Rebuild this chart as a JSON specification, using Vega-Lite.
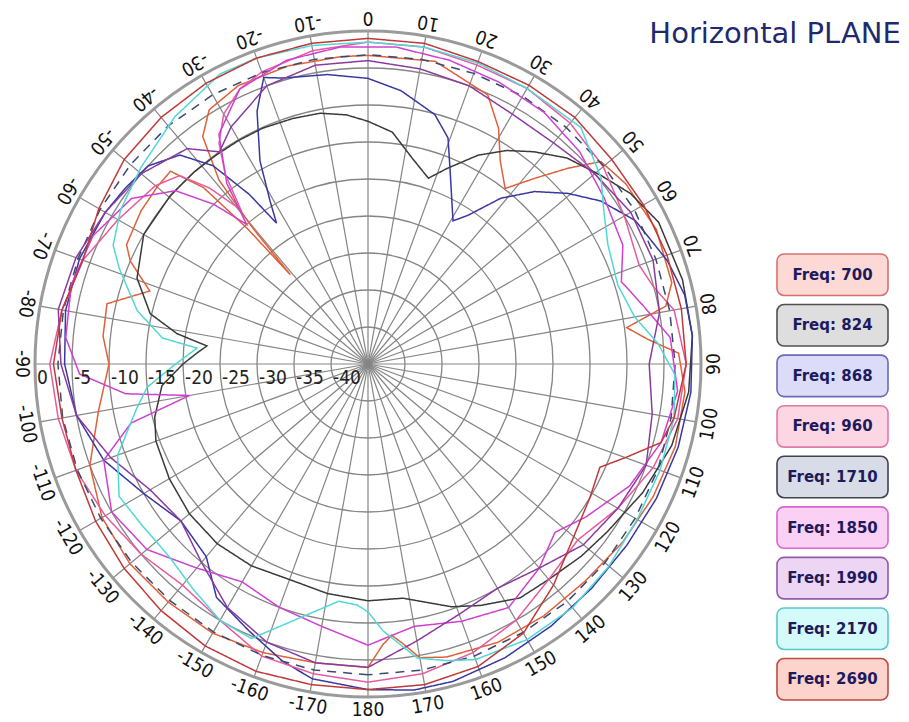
{
"$schema":"https://vega.github.io/schema/vega-lite/v6.json",
"padding":{"left":11,"top":7,"right":5,"bottom":5},
"background":"white",
"bounds":"flush",
"spacing":76,
"config":{"view":{"stroke":null}},
"datasets":{
"traces":[
{"f":"700","a":-180,"d":-4},{"f":"700","a":-170,"d":-4},{"f":"700","a":-160,"d":-3.5},{"f":"700","a":-150,"d":-3},{"f":"700","a":-140,"d":-3},{"f":"700","a":-130,"d":-3},{"f":"700","a":-120,"d":-3.5},{"f":"700","a":-110,"d":-5},{"f":"700","a":-100,"d":-8},{"f":"700","a":-90,"d":-10},{"f":"700","a":-84,"d":-9},{"f":"700","a":-77,"d":-8.8},{"f":"700","a":-71.5,"d":-13.9},{"f":"700","a":-66.6,"d":-10},{"f":"700","a":-63.7,"d":-8.6},{"f":"700","a":-56,"d":-8},{"f":"700","a":-50,"d":-7.8},{"f":"700","a":-45.7,"d":-7.7},{"f":"700","a":-43,"d":-12.4},{"f":"700","a":-41.7,"d":-20.4},{"f":"700","a":-41,"d":-29},{"f":"700","a":-40.3,"d":-21},{"f":"700","a":-39,"d":-13},{"f":"700","a":-36,"d":-7},{"f":"700","a":-32,"d":-4.5},{"f":"700","a":-25,"d":-3.5},{"f":"700","a":-15,"d":-3.3},{"f":"700","a":-5,"d":-3.3},{"f":"700","a":0,"d":-3.3},{"f":"700","a":12.5,"d":-3.1},{"f":"700","a":24,"d":-5.2},{"f":"700","a":29,"d":-8.6},{"f":"700","a":33,"d":-12.2},{"f":"700","a":38,"d":-14.9},{"f":"700","a":42,"d":-11.2},{"f":"700","a":45.6,"d":-7.2},{"f":"700","a":49,"d":-3.3},{"f":"700","a":55,"d":-2.5},{"f":"700","a":65,"d":-2},{"f":"700","a":75,"d":-2.5},{"f":"700","a":79,"d":-4},{"f":"700","a":82,"d":-9.7},{"f":"700","a":85,"d":-7},{"f":"700","a":88,"d":-3},{"f":"700","a":95,"d":-2},{"f":"700","a":105,"d":-2},{"f":"700","a":115,"d":-2.5},{"f":"700","a":125,"d":-3},{"f":"700","a":135,"d":-3.5},{"f":"700","a":145,"d":-3.5},{"f":"700","a":155,"d":-3.5},{"f":"700","a":165,"d":-4},{"f":"700","a":170,"d":-4.7},{"f":"700","a":173,"d":-7},{"f":"700","a":175,"d":-8.2},{"f":"700","a":177,"d":-7},{"f":"700","a":180,"d":-4},
{"f":"824","a":-180,"d":-13},{"f":"824","a":-170,"d":-13.5},{"f":"824","a":-160,"d":-14},{"f":"824","a":-150,"d":-13.5},{"f":"824","a":-140,"d":-13.3},{"f":"824","a":-130,"d":-13.5},{"f":"824","a":-120,"d":-14},{"f":"824","a":-110,"d":-14.5},{"f":"824","a":-104,"d":-15.3},{"f":"824","a":-96,"d":-17},{"f":"824","a":-90,"d":-20},{"f":"824","a":-86,"d":-22},{"f":"824","a":-83.6,"d":-23.1},{"f":"824","a":-81,"d":-18.9},{"f":"824","a":-77,"d":-14.8},{"f":"824","a":-69.6,"d":-11.7},{"f":"824","a":-60,"d":-10},{"f":"824","a":-49.5,"d":-9.9},{"f":"824","a":-42,"d":-10},{"f":"824","a":-36,"d":-10.1},{"f":"824","a":-30,"d":-10.1},{"f":"824","a":-24,"d":-10.1},{"f":"824","a":-17,"d":-10.3},{"f":"824","a":-10.8,"d":-10.5},{"f":"824","a":-5,"d":-11.2},{"f":"824","a":0,"d":-12.2},{"f":"824","a":6,"d":-13.5},{"f":"824","a":12,"d":-16.5},{"f":"824","a":18,"d":-18.6},{"f":"824","a":22,"d":-16.5},{"f":"824","a":27.8,"d":-13.1},{"f":"824","a":33,"d":-10.6},{"f":"824","a":38,"d":-8.6},{"f":"824","a":44,"d":-6.3},{"f":"824","a":51,"d":-4.5},{"f":"824","a":57,"d":-2.7},{"f":"824","a":64,"d":-1.3},{"f":"824","a":75,"d":-1},{"f":"824","a":85,"d":-1},{"f":"824","a":95,"d":-1.5},{"f":"824","a":105,"d":-2.5},{"f":"824","a":115,"d":-4},{"f":"824","a":125,"d":-5.5},{"f":"824","a":132,"d":-6.2},{"f":"824","a":140,"d":-7},{"f":"824","a":147,"d":-7.3},{"f":"824","a":155,"d":-9},{"f":"824","a":161,"d":-10.3},{"f":"824","a":171.5,"d":-13},{"f":"824","a":180,"d":-13},
{"f":"868","a":-180,"d":-1},{"f":"868","a":-170,"d":-1.8},{"f":"868","a":-164,"d":-3.2},{"f":"868","a":-156,"d":-5.5},{"f":"868","a":-147,"d":-7.4},{"f":"868","a":-140,"d":-11},{"f":"868","a":-130,"d":-12},{"f":"868","a":-120,"d":-10},{"f":"868","a":-110,"d":-7},{"f":"868","a":-100,"d":-5},{"f":"868","a":-90,"d":-4},{"f":"868","a":-80,"d":-3.5},{"f":"868","a":-70,"d":-3.5},{"f":"868","a":-60,"d":-4},{"f":"868","a":-54,"d":-4.5},{"f":"868","a":-48,"d":-5},{"f":"868","a":-42,"d":-7},{"f":"868","a":-38,"d":-11},{"f":"868","a":-35,"d":-17},{"f":"868","a":-33,"d":-22.3},{"f":"868","a":-31,"d":-19.3},{"f":"868","a":-28,"d":-13.9},{"f":"868","a":-23.7,"d":-7.7},{"f":"868","a":-20,"d":-3.8},{"f":"868","a":-16.5,"d":-4.7},{"f":"868","a":-8,"d":-5.5},{"f":"868","a":0,"d":-6.4},{"f":"868","a":6.9,"d":-7.8},{"f":"868","a":15,"d":-10.1},{"f":"868","a":19.5,"d":-12.6},{"f":"868","a":23,"d":-16.6},{"f":"868","a":30.7,"d":-22.5},{"f":"868","a":33.9,"d":-20.8},{"f":"868","a":38.7,"d":-16.3},{"f":"868","a":44,"d":-12.6},{"f":"868","a":49.5,"d":-9.5},{"f":"868","a":55,"d":-6.6},{"f":"868","a":61.8,"d":-4},{"f":"868","a":71,"d":-2.2},{"f":"868","a":77.7,"d":-1.2},{"f":"868","a":85,"d":-1},{"f":"868","a":95,"d":-1.2},{"f":"868","a":105,"d":-1.6},{"f":"868","a":115,"d":-2},{"f":"868","a":125,"d":-2.3},{"f":"868","a":135,"d":-2.2},{"f":"868","a":145,"d":-1.8},{"f":"868","a":155,"d":-1.2},{"f":"868","a":165,"d":-0.6},{"f":"868","a":172,"d":-0.5},{"f":"868","a":180,"d":-1},
{"f":"960","a":-180,"d":-2},{"f":"960","a":-170,"d":-2.5},{"f":"960","a":-160,"d":-3},{"f":"960","a":-150,"d":-5},{"f":"960","a":-140,"d":-6},{"f":"960","a":-130,"d":-5},{"f":"960","a":-120,"d":-4},{"f":"960","a":-110,"d":-3},{"f":"960","a":-100,"d":-2.5},{"f":"960","a":-90,"d":-2},{"f":"960","a":-80,"d":-3},{"f":"960","a":-70,"d":-4},{"f":"960","a":-60,"d":-6},{"f":"960","a":-50,"d":-7.5},{"f":"960","a":-45,"d":-9},{"f":"960","a":-42,"d":-13},{"f":"960","a":-39.5,"d":-18},{"f":"960","a":-37,"d":-13},{"f":"960","a":-34,"d":-9},{"f":"960","a":-30,"d":-6},{"f":"960","a":-25,"d":-4},{"f":"960","a":-20,"d":-3},{"f":"960","a":-10,"d":-2},{"f":"960","a":0,"d":-1.5},{"f":"960","a":10,"d":-1.5},{"f":"960","a":20,"d":-2},{"f":"960","a":30,"d":-2},{"f":"960","a":40,"d":-2.5},{"f":"960","a":50,"d":-3.5},{"f":"960","a":60,"d":-5},{"f":"960","a":70,"d":-6},{"f":"960","a":75,"d":-5},{"f":"960","a":80,"d":-3},{"f":"960","a":90,"d":-2},{"f":"960","a":100,"d":-2.5},{"f":"960","a":110,"d":-4},{"f":"960","a":120,"d":-6},{"f":"960","a":130,"d":-8},{"f":"960","a":140,"d":-7},{"f":"960","a":150,"d":-5},{"f":"960","a":160,"d":-3.5},{"f":"960","a":170,"d":-2.5},{"f":"960","a":180,"d":-2},
{"f":"1710","a":-180,"d":-3},{"f":"1710","a":-170,"d":-3},{"f":"1710","a":-160,"d":-3.1},{"f":"1710","a":-150,"d":-3.2},{"f":"1710","a":-140,"d":-3.3},{"f":"1710","a":-130,"d":-3.3},{"f":"1710","a":-120,"d":-3.3},{"f":"1710","a":-110,"d":-3.2},{"f":"1710","a":-100,"d":-3.1},{"f":"1710","a":-90,"d":-3.1},{"f":"1710","a":-80,"d":-3.2},{"f":"1710","a":-70,"d":-3.3},{"f":"1710","a":-60,"d":-3.2},{"f":"1710","a":-50,"d":-3.1},{"f":"1710","a":-40,"d":-3},{"f":"1710","a":-30,"d":-3},{"f":"1710","a":-20,"d":-3.1},{"f":"1710","a":-10,"d":-3.2},{"f":"1710","a":0,"d":-3.2},{"f":"1710","a":10,"d":-3.2},{"f":"1710","a":20,"d":-3.2},{"f":"1710","a":30,"d":-3.2},{"f":"1710","a":40,"d":-3.3},{"f":"1710","a":50,"d":-3.4},{"f":"1710","a":60,"d":-3.4},{"f":"1710","a":70,"d":-3.6},{"f":"1710","a":80,"d":-3.6},{"f":"1710","a":90,"d":-3.5},{"f":"1710","a":100,"d":-3.4},{"f":"1710","a":110,"d":-3.3},{"f":"1710","a":120,"d":-3.3},{"f":"1710","a":130,"d":-3.2},{"f":"1710","a":140,"d":-3.1},{"f":"1710","a":150,"d":-3.1},{"f":"1710","a":160,"d":-3},{"f":"1710","a":170,"d":-3},{"f":"1710","a":180,"d":-3},
{"f":"1850","a":-180,"d":-7},{"f":"1850","a":-170,"d":-9},{"f":"1850","a":-160,"d":-10},{"f":"1850","a":-150,"d":-11},{"f":"1850","a":-140,"d":-9},{"f":"1850","a":-130,"d":-6},{"f":"1850","a":-120,"d":-5},{"f":"1850","a":-110,"d":-7},{"f":"1850","a":-104,"d":-12},{"f":"1850","a":-100,"d":-20.5},{"f":"1850","a":-97,"d":-12},{"f":"1850","a":-92,"d":-6},{"f":"1850","a":-85,"d":-4},{"f":"1850","a":-75,"d":-3.5},{"f":"1850","a":-65,"d":-4},{"f":"1850","a":-55,"d":-6},{"f":"1850","a":-48,"d":-10},{"f":"1850","a":-44,"d":-15},{"f":"1850","a":-41,"d":-20},{"f":"1850","a":-38,"d":-14},{"f":"1850","a":-33,"d":-8},{"f":"1850","a":-25,"d":-4},{"f":"1850","a":-15,"d":-2.5},{"f":"1850","a":-5,"d":-2},{"f":"1850","a":5,"d":-2},{"f":"1850","a":15,"d":-2.5},{"f":"1850","a":25,"d":-3},{"f":"1850","a":35,"d":-3.5},{"f":"1850","a":45,"d":-4.5},{"f":"1850","a":55,"d":-6},{"f":"1850","a":65,"d":-7},{"f":"1850","a":72,"d":-9},{"f":"1850","a":78,"d":-7},{"f":"1850","a":85,"d":-4},{"f":"1850","a":95,"d":-3},{"f":"1850","a":105,"d":-4},{"f":"1850","a":115,"d":-6},{"f":"1850","a":125,"d":-9},{"f":"1850","a":132,"d":-11},{"f":"1850","a":140,"d":-9},{"f":"1850","a":150,"d":-7},{"f":"1850","a":160,"d":-8},{"f":"1850","a":170,"d":-9},{"f":"1850","a":180,"d":-7},
{"f":"1990","a":-180,"d":-4},{"f":"1990","a":-170,"d":-4},{"f":"1990","a":-160,"d":-5},{"f":"1990","a":-150,"d":-7},{"f":"1990","a":-140,"d":-10},{"f":"1990","a":-130,"d":-12},{"f":"1990","a":-120,"d":-11},{"f":"1990","a":-110,"d":-8},{"f":"1990","a":-100,"d":-5},{"f":"1990","a":-90,"d":-3.5},{"f":"1990","a":-80,"d":-2.5},{"f":"1990","a":-70,"d":-3},{"f":"1990","a":-60,"d":-4},{"f":"1990","a":-50,"d":-5},{"f":"1990","a":-40,"d":-7},{"f":"1990","a":-35,"d":-10},{"f":"1990","a":-30,"d":-8},{"f":"1990","a":-20,"d":-5},{"f":"1990","a":-10,"d":-4},{"f":"1990","a":0,"d":-4},{"f":"1990","a":10,"d":-4.5},{"f":"1990","a":20,"d":-5},{"f":"1990","a":30,"d":-6},{"f":"1990","a":40,"d":-6},{"f":"1990","a":50,"d":-5},{"f":"1990","a":60,"d":-4},{"f":"1990","a":70,"d":-4},{"f":"1990","a":80,"d":-5},{"f":"1990","a":90,"d":-7},{"f":"1990","a":100,"d":-6},{"f":"1990","a":110,"d":-5},{"f":"1990","a":120,"d":-6},{"f":"1990","a":130,"d":-7},{"f":"1990","a":140,"d":-9},{"f":"1990","a":150,"d":-10},{"f":"1990","a":160,"d":-9},{"f":"1990","a":170,"d":-7},{"f":"1990","a":180,"d":-4},
{"f":"2170","a":-180,"d":-11.5},{"f":"2170","a":-177.4,"d":-12.4},{"f":"2170","a":-173,"d":-12.7},{"f":"2170","a":-165,"d":-9.5},{"f":"2170","a":-157,"d":-4.7},{"f":"2170","a":-150,"d":-5},{"f":"2170","a":-142,"d":-6.5},{"f":"2170","a":-134,"d":-7.6},{"f":"2170","a":-126,"d":-7.5},{"f":"2170","a":-118,"d":-6.9},{"f":"2170","a":-110,"d":-9},{"f":"2170","a":-100.8,"d":-13.2},{"f":"2170","a":-96,"d":-15},{"f":"2170","a":-90,"d":-19},{"f":"2170","a":-84.7,"d":-21.8},{"f":"2170","a":-82.8,"d":-17},{"f":"2170","a":-77,"d":-13},{"f":"2170","a":-69,"d":-9},{"f":"2170","a":-65,"d":-7},{"f":"2170","a":-58,"d":-5.6},{"f":"2170","a":-49,"d":-4.4},{"f":"2170","a":-38,"d":-2.6},{"f":"2170","a":-27,"d":-1},{"f":"2170","a":-20,"d":-1},{"f":"2170","a":-10,"d":-1.3},{"f":"2170","a":0,"d":-1.5},{"f":"2170","a":10,"d":-1.5},{"f":"2170","a":20,"d":-1.7},{"f":"2170","a":30,"d":-2},{"f":"2170","a":42,"d":-2},{"f":"2170","a":51.4,"d":-4.7},{"f":"2170","a":57,"d":-7},{"f":"2170","a":63.6,"d":-8.8},{"f":"2170","a":72.5,"d":-9.6},{"f":"2170","a":80,"d":-8.4},{"f":"2170","a":86,"d":-5.7},{"f":"2170","a":92,"d":-3.5},{"f":"2170","a":100,"d":-3},{"f":"2170","a":110,"d":-3},{"f":"2170","a":120,"d":-3},{"f":"2170","a":130,"d":-2.5},{"f":"2170","a":140,"d":-2},{"f":"2170","a":150,"d":-2},{"f":"2170","a":160,"d":-2.5},{"f":"2170","a":165,"d":-3.5},{"f":"2170","a":170.5,"d":-4.7},{"f":"2170","a":176.8,"d":-8.9},{"f":"2170","a":180,"d":-11.5},
{"f":"2690","a":-180,"d":-1},{"f":"2690","a":-170,"d":-1},{"f":"2690","a":-160,"d":-0.8},{"f":"2690","a":-150,"d":-1},{"f":"2690","a":-140,"d":-1.5},{"f":"2690","a":-130,"d":-2},{"f":"2690","a":-120,"d":-2.5},{"f":"2690","a":-110,"d":-3},{"f":"2690","a":-100,"d":-3},{"f":"2690","a":-90,"d":-2.5},{"f":"2690","a":-80,"d":-3},{"f":"2690","a":-70,"d":-4},{"f":"2690","a":-60,"d":-3},{"f":"2690","a":-50,"d":-2},{"f":"2690","a":-40,"d":-1.5},{"f":"2690","a":-30,"d":-1.2},{"f":"2690","a":-20,"d":-1},{"f":"2690","a":-10,"d":-1},{"f":"2690","a":0,"d":-1},{"f":"2690","a":10,"d":-1},{"f":"2690","a":20,"d":-1.5},{"f":"2690","a":30,"d":-1.5},{"f":"2690","a":40,"d":-1.5},{"f":"2690","a":50,"d":-2},{"f":"2690","a":60,"d":-2},{"f":"2690","a":70,"d":-2},{"f":"2690","a":80,"d":-2},{"f":"2690","a":90,"d":-2},{"f":"2690","a":100,"d":-3},{"f":"2690","a":105,"d":-4},{"f":"2690","a":110,"d":-8},{"f":"2690","a":114,"d":-10.7},{"f":"2690","a":121,"d":-10},{"f":"2690","a":131,"d":-8.5},{"f":"2690","a":140,"d":-6},{"f":"2690","a":150,"d":-3},{"f":"2690","a":160,"d":-1.5},{"f":"2690","a":170,"d":-1},{"f":"2690","a":180,"d":-1}
],
"spokes":[{"a":0},{"a":10},{"a":20},{"a":30},{"a":40},{"a":50},{"a":60},{"a":70},{"a":80},{"a":90},{"a":100},{"a":110},{"a":120},{"a":130},{"a":140},{"a":150},{"a":160},{"a":170},{"a":180},{"a":190},{"a":200},{"a":210},{"a":220},{"a":230},{"a":240},{"a":250},{"a":260},{"a":270},{"a":280},{"a":290},{"a":300},{"a":310},{"a":320},{"a":330},{"a":340},{"a":350}],
"rings":[{"v":-40,"t":"-40"},{"v":-35,"t":"-35"},{"v":-30,"t":"-30"},{"v":-25,"t":"-25"},{"v":-20,"t":"-20"},{"v":-15,"t":"-15"},{"v":-10,"t":"-10"},{"v":-5,"t":"-5"},{"v":0,"t":"0"}],
"angles":[{"a":0,"t":"0"},{"a":10,"t":"10"},{"a":20,"t":"20"},{"a":30,"t":"30"},{"a":40,"t":"40"},{"a":50,"t":"50"},{"a":60,"t":"60"},{"a":70,"t":"70"},{"a":80,"t":"80"},{"a":90,"t":"90"},{"a":100,"t":"100"},{"a":110,"t":"110"},{"a":120,"t":"120"},{"a":130,"t":"130"},{"a":140,"t":"140"},{"a":150,"t":"150"},{"a":160,"t":"160"},{"a":170,"t":"170"},{"a":180,"t":"180"},{"a":-10,"t":"-10"},{"a":-20,"t":"-20"},{"a":-30,"t":"-30"},{"a":-40,"t":"-40"},{"a":-50,"t":"-50"},{"a":-60,"t":"-60"},{"a":-70,"t":"-70"},{"a":-80,"t":"-80"},{"a":-90,"t":"-90"},{"a":-100,"t":"-100"},{"a":-110,"t":"-110"},{"a":-120,"t":"-120"},{"a":-130,"t":"-130"},{"a":-140,"t":"-140"},{"a":-150,"t":"-150"},{"a":-160,"t":"-160"},{"a":-170,"t":"-170"}],
"legend":[{"f":"700","t":"Freq: 700"},{"f":"824","t":"Freq: 824"},{"f":"868","t":"Freq: 868"},{"f":"960","t":"Freq: 960"},{"f":"1710","t":"Freq: 1710"},{"f":"1850","t":"Freq: 1850"},{"f":"1990","t":"Freq: 1990"},{"f":"2170","t":"Freq: 2170"},{"f":"2690","t":"Freq: 2690"}]
},
"hconcat":[
{"width":666,"height":666,
 "layer":[
 {"data":{"name":"rings"},
  "transform":[{"filter":"datum.v < 0"},{"calculate":"datum.v + 45","as":"r"},{"calculate":"0","as":"cx"}],
  "mark":{"type":"point","shape":"circle","filled":false,"stroke":"#858585","strokeWidth":1.3,"opacity":1},
  "encoding":{"x":{"field":"cx","type":"quantitative","scale":{"domain":[-45,45],"nice":false,"zero":false},"axis":null},
   "y":{"field":"cx","type":"quantitative","scale":{"domain":[-45,45],"nice":false,"zero":false},"axis":null},
   "size":{"field":"r","type":"quantitative","scale":{"type":"pow","exponent":2,"domain":[0,45],"range":[0,443556]},"legend":null}}},
 {"data":{"name":"spokes"},
  "transform":[{"calculate":"45*sin(datum.a*PI/180)","as":"sx"},{"calculate":"45*cos(datum.a*PI/180)","as":"sy"},{"calculate":"0","as":"cx"}],
  "mark":{"type":"rule","stroke":"#858585","strokeWidth":1.2},
  "encoding":{"x":{"field":"sx","type":"quantitative","scale":{"domain":[-45,45],"nice":false,"zero":false},"axis":null},
   "y":{"field":"sy","type":"quantitative","scale":{"domain":[-45,45],"nice":false,"zero":false},"axis":null},
   "x2":{"field":"cx"},"y2":{"field":"cx"}}},
 {"data":{"name":"rings"},
  "transform":[{"filter":"datum.v == 0"},{"calculate":"datum.v + 45","as":"r"},{"calculate":"0","as":"cx"}],
  "mark":{"type":"point","shape":"circle","filled":false,"stroke":"#9a9a9a","strokeWidth":3,"opacity":1},
  "encoding":{"x":{"field":"cx","type":"quantitative","scale":{"domain":[-45,45],"nice":false,"zero":false},"axis":null},
   "y":{"field":"cx","type":"quantitative","scale":{"domain":[-45,45],"nice":false,"zero":false},"axis":null},
   "size":{"field":"r","type":"quantitative","scale":{"type":"pow","exponent":2,"domain":[0,45],"range":[0,443556]},"legend":null}}},
 {"data":{"name":"traces"},
  "transform":[{"calculate":"datum.d + 45","as":"r"},{"calculate":"datum.r*sin(datum.a*PI/180)","as":"px"},{"calculate":"datum.r*cos(datum.a*PI/180)","as":"py"}],
  "mark":{"type":"line","strokeWidth":1.5,"interpolate":"linear"},
  "encoding":{"x":{"field":"px","type":"quantitative","scale":{"domain":[-45,45],"nice":false,"zero":false},"axis":null},
   "y":{"field":"py","type":"quantitative","scale":{"domain":[-45,45],"nice":false,"zero":false},"axis":null},
   "order":{"field":"a","type":"quantitative"},
   "detail":{"field":"f","type":"nominal"},
   "color":{"field":"f","type":"nominal","scale":{"domain":["700","824","868","960","1710","1850","1990","2170","2690"],"range":["#e0603a","#3a3a3a","#3838a0","#e85aa0","#3a4a70","#d040d0","#8c3aa0","#50d8d8","#c03838"]},"legend":null},
   "strokeDash":{"field":"f","type":"nominal","scale":{"domain":["700","824","868","960","1710","1850","1990","2170","2690"],"range":[[1,0],[1,0],[1,0],[1,0],[9,7],[1,0],[1,0],[1,0],[1,0]]},"legend":null}}},
 {"data":{"name":"rings"},
  "transform":[{"calculate":"-(datum.v + 45)","as":"lx"},{"calculate":"0","as":"cy"}],
  "mark":{"type":"text","align":"left","baseline":"top","dx":2,"dy":5,"font":"'DejaVu Sans Condensed', 'Liberation Sans', sans-serif","fontSize":19,"color":"#222222"},
  "encoding":{"x":{"field":"lx","type":"quantitative","scale":{"domain":[-45,45],"nice":false,"zero":false},"axis":null},
   "y":{"field":"cy","type":"quantitative","scale":{"domain":[-45,45],"nice":false,"zero":false},"axis":null},
   "text":{"field":"t","type":"nominal"}}},
 {"data":{"name":"angles"},
  "transform":[{"calculate":"46.8*sin(datum.a*PI/180)","as":"lx"},{"calculate":"46.8*cos(datum.a*PI/180)","as":"ly"},{"calculate":"datum.a + 180","as":"rot"}],
  "mark":{"type":"text","align":"center","baseline":"middle","font":"'DejaVu Sans Condensed', 'Liberation Sans', sans-serif","fontSize":19,"color":"#111111"},
  "encoding":{"x":{"field":"lx","type":"quantitative","scale":{"domain":[-45,45],"nice":false,"zero":false},"axis":null},
   "y":{"field":"ly","type":"quantitative","scale":{"domain":[-45,45],"nice":false,"zero":false},"axis":null},
   "angle":{"field":"rot","type":"quantitative","scale":null},
   "text":{"field":"t","type":"nominal"}}}
 ]},
{"width":111,"height":666,
 "title":{"text":"Horizontal PLANE","anchor":"end","dx":12,"dy":41,"offset":0,"baseline":"alphabetic","fontSize":29,"font":"DejaVu Sans","fontWeight":"normal","color":"#1f2a6e"},
 "data":{"name":"legend"},
 "encoding":{"y":{"field":"t","type":"nominal","sort":null,"scale":{"type":"band","range":[223,669],"paddingInner":0.18,"paddingOuter":0},"axis":null}},
 "layer":[
 {"mark":{"type":"rect","cornerRadius":7,"strokeWidth":1.6},
  "encoding":{
   "fill":{"field":"f","type":"nominal","scale":{"domain":["700","824","868","960","1710","1850","1990","2170","2690"],"range":["#fcd9d4","#dedede","#dcdcf8","#fcd6e2","#d8dce6","#fad0f4","#ecd6f4","#d4fafa","#fcd4cc"]},"legend":null},
   "stroke":{"field":"f","type":"nominal","scale":{"domain":["700","824","868","960","1710","1850","1990","2170","2690"],"range":["#d87070","#505050","#6a6ab8","#e07aa8","#404452","#d468cc","#9458ac","#58c8c8","#c24a40"]},"legend":null}}},
 {"mark":{"type":"text","align":"center","baseline":"middle","font":"DejaVu Sans","fontWeight":"bold","fontSize":15,"color":"#1e1a5e"},
  "encoding":{"text":{"field":"t","type":"nominal"}}}
 ]}
]
}
